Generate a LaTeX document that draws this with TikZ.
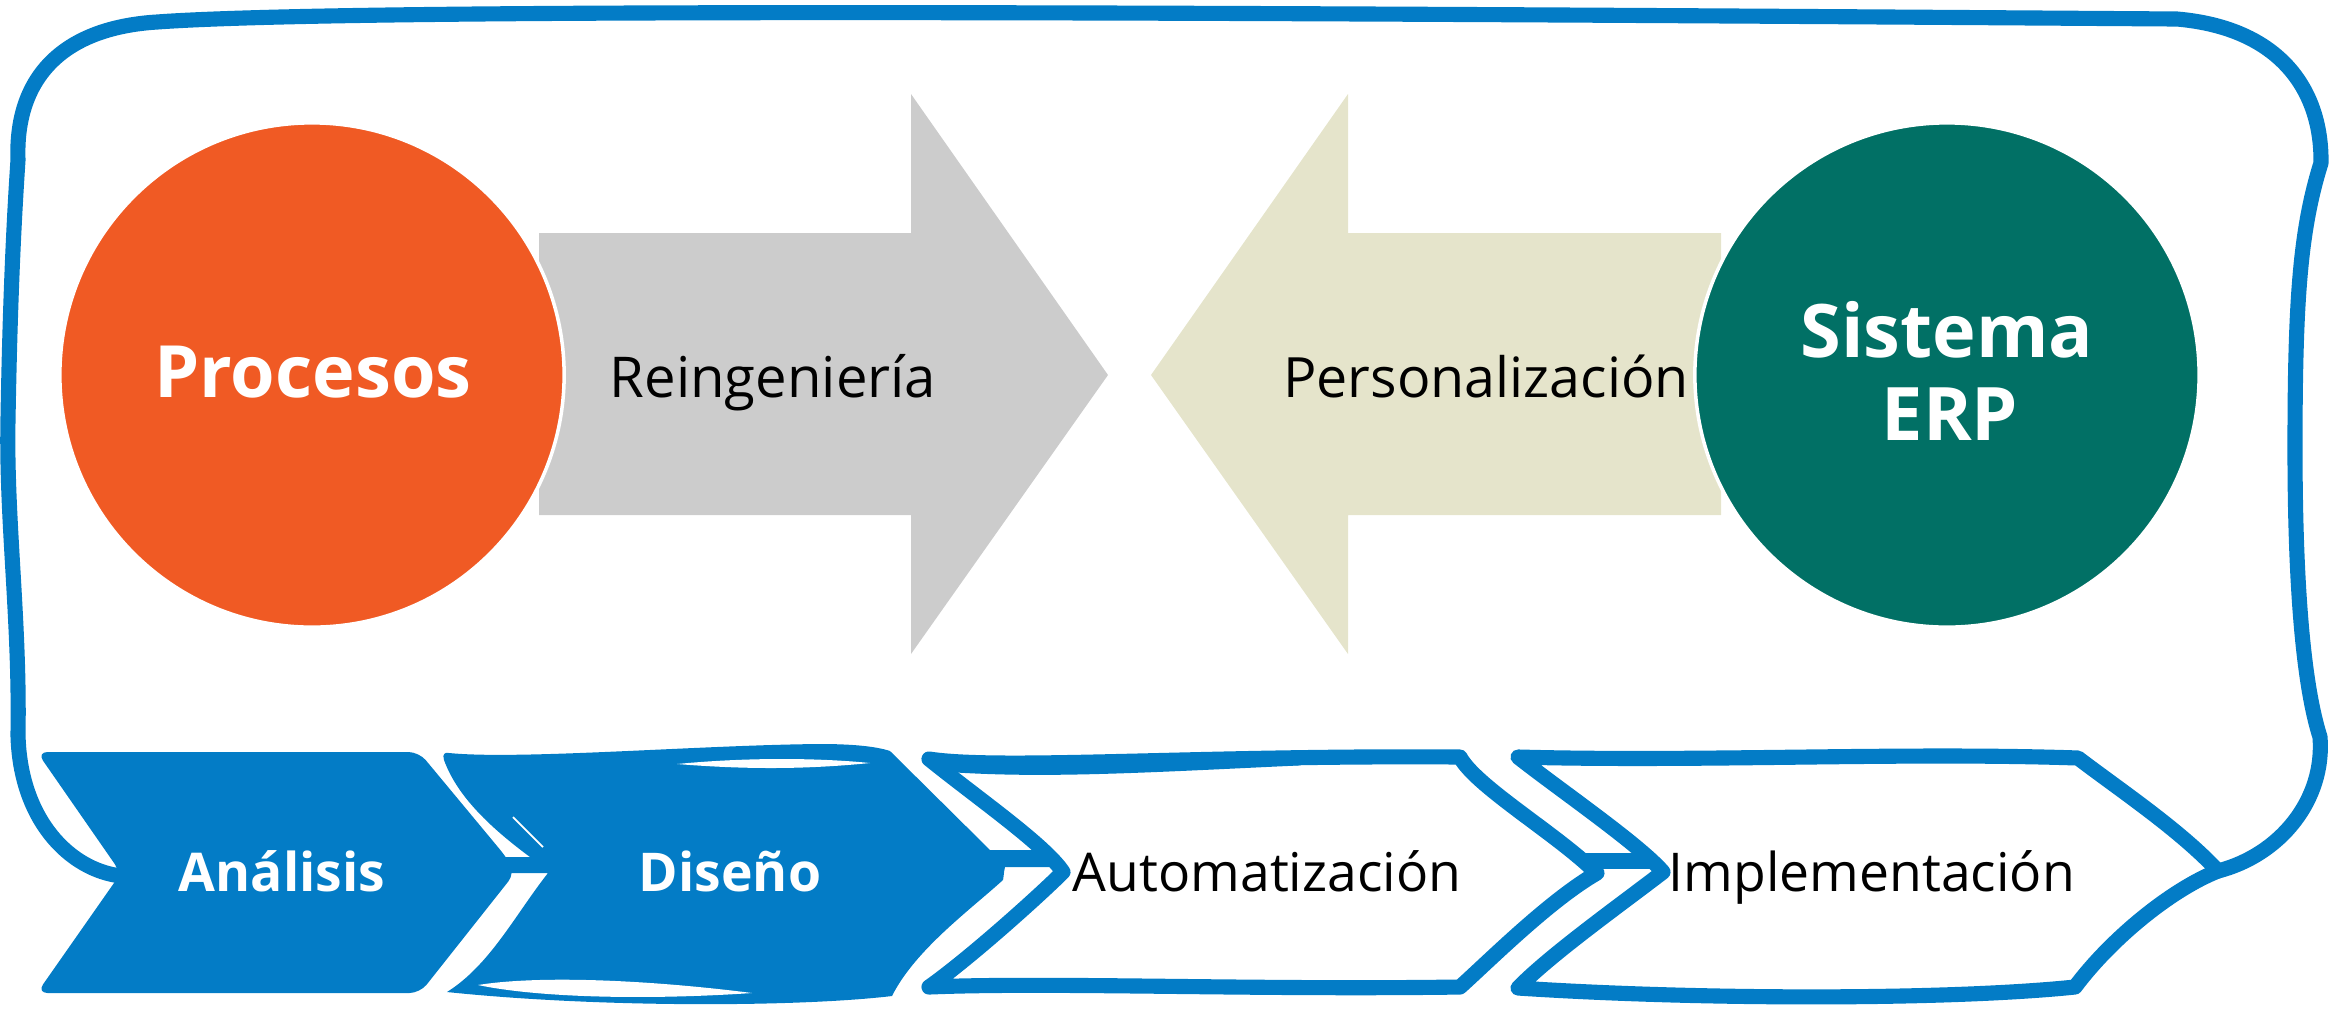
\documentclass[tikz,border=0pt]{standalone}
\usepackage{fontspec}
\setmainfont{Open Sans}
\definecolor{bl}{RGB}{3,124,198}
\definecolor{procorange}{RGB}{240,90,36}
\definecolor{arrgray}{RGB}{204,204,204}
\definecolor{arrbeige}{RGB}{229,228,203}
\definecolor{erpteal}{RGB}{1,112,101}
\tikzset{
  circ/.style={circle, minimum size=5.04cm, inner sep=0pt, draw=white, line width=1pt},
  toplbl/.style={anchor=base, inner sep=0pt, font=\fontsize{16}{19}\selectfont},
  botlbl/.style={anchor=base, inner sep=0pt, font=\fontsize{15.2}{18}\selectfont},
  bigw/.style={anchor=base, inner sep=0pt, text=white, font=\fontsize{20.5}{24}\selectfont\bfseries},
  botw/.style={anchor=base, inner sep=0pt, text=white, font=\fontsize{15.2}{18}\selectfont\bfseries},
  sketch/.style={draw=bl, line width=4.3pt, line join=round, line cap=round},
  frame/.style={draw=bl, line width=4.3pt, line join=round, line cap=round}
}
\begin{document}
\begin{tikzpicture}[x=0.01cm, y=-0.01cm]
\useasboundingbox (0,0) rectangle (2341,1008);

% top arrows
\fill[arrgray] (539,233) -- (911,233) -- (911,94) -- (1108,375) -- (911,654) -- (911,515) -- (539,515) -- cycle;
\fill[arrbeige] (1721,233) -- (1348,233) -- (1348,94) -- (1151,375) -- (1348,654) -- (1348,515) -- (1721,515) -- cycle;

% circles
\node[circ, fill=procorange] (proc) at (312,375) {};
\node[circ, fill=erpteal] (erp) at (1947,375) {};

% top labels
\node[bigw] (tproc) at (313,397) {Procesos};
\node[toplbl] (treing) at (773,397) {Reingeniería};
\node[toplbl, font=\fontsize{15.8}{19}\selectfont] (tpers) at (1486,397) {Personalización};
\node[bigw, font=\fontsize{21}{24}\selectfont\bfseries] (tsist) at (1947,357) {Sistema};
\node[bigw, font=\fontsize{21}{24}\selectfont\bfseries] (terp) at (1950,440) {ERP};

% chevron 1: Analisis
\fill[bl, rounded corners=3pt] (37,752) -- (419,752) -- (507,858) -- (515,873) -- (420,993) -- (37,993) -- (121,873) -- cycle;

% chevron 2: Diseno (sketchy, filled)
\fill[bl] (449,753) .. controls (520,760) and (700,745) .. (820,744)
  .. controls (850,744) and (875,746) .. (890,751) -- (990,850) -- (1052,850) -- (1052,867) -- (1005,867)
  .. controls (1003,876) and (1004,878) .. (1003,880)
  .. controls (970,910) and (915,950) .. (892,996)
  .. controls (800,1007) and (600,1008) .. (447,992)
  .. controls (490,965) and (515,915) .. (548,873) -- (505,873) -- (505,857) -- (530,857)
  .. controls (480,820) and (455,790) .. (444,760)
  .. controls (442,754) and (445,752) .. (449,753) -- cycle;
\fill[white] (677,764) .. controls (750,757) and (820,758) .. (870,763) .. controls (800,770) and (740,769) .. (677,764) -- cycle;
\fill[white] (478,985) .. controls (540,975) and (650,980) .. (752,993) .. controls (650,1000) and (540,998) .. (478,985) -- cycle;
\draw[white, line width=0.5pt] (513,817) -- (543,847);

% chevron 3: Automatizacion
\path[sketch, fill=white] (929,759) .. controls (1000,770) and (1200,755) .. (1460,757)
  .. controls (1475,785) and (1550,830) .. (1590,867) -- (1597,873)
  .. controls (1550,900) and (1490,960) .. (1460,987)
  .. controls (1250,990) and (1050,982) .. (929,987)
  .. controls (970,958) and (1040,895) .. (1063,872)
  .. controls (1045,845) and (980,800) .. (929,759) -- cycle;
\draw[draw=bl, line width=2.5pt, line cap=round] (955,768) .. controls (1050,774) and (1150,768) .. (1300,761);

% chevron 4: Implementacion
\coordinate (itip) at (2218,871);
\path[sketch, fill=white] (1518,757) .. controls (1700,762) and (1900,752) .. (2078,758)
  .. controls (2120,790) and (2180,830) .. (itip)
  .. controls (2170,890) and (2110,940) .. (2075,987)
  .. controls (1950,1000) and (1700,1000) .. (1518,988)
  .. controls (1550,955) and (1620,905) .. (1663,872)
  .. controls (1640,845) and (1560,790) .. (1518,757) -- cycle;
\fill[bl] (1583,853) rectangle (1655,869);

% bottom labels
\node[botw] (tanal) at (282,891) {Análisis};
\node[botw] (tdis) at (730,891) {Diseño};
\node[botlbl] (taut) at (1267,891) {Automatización};
\node[botlbl] (timp) at (1872,891) {Implementación};

% feedback frame
\coordinate (anotch) at (121,876);
\path[frame] (anotch) .. controls (70,870) and (20,820) .. (18,735)
  .. controls (20,620) and (6,520) .. (8,420)
  .. controls (10,300) and (14,220) .. (18,160)
  .. controls (15,80) and (60,28) .. (157,22)
  .. controls (350,8) and (1200,12) .. (2177,19)
  .. controls (2280,28) and (2322,90) .. (2321,163)
  .. controls (2300,230) and (2295,300) .. (2295,448)
  .. controls (2295,600) and (2305,690) .. (2320,737)
  .. controls (2325,800) and (2280,855) .. (itip);
\end{tikzpicture}
\end{document}
